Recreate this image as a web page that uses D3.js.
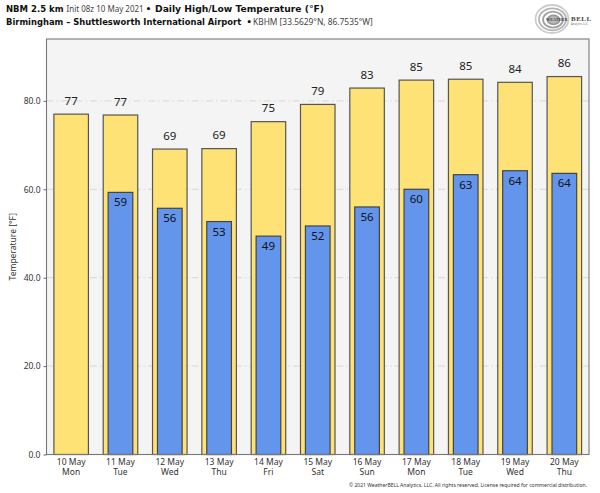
<!DOCTYPE html>
<html>
<head>
<meta charset="utf-8">
<script src="https://cdnjs.cloudflare.com/ajax/libs/d3/7.8.5/d3.min.js"></script>
<style>
  html, body { margin: 0; padding: 0; background: #fff; }
  svg { display: block; }
  text { font-family: "Noto Sans", "Open Sans", sans-serif; fill: #222; }
  .bold { font-family: "DejaVu Sans", sans-serif; font-weight: bold; fill: #111; }
  .thin { fill: #444; }
</style>
</head>
<body>
<svg id="chart" width="600" height="493"></svg>
<script>
var days = ["10 May", "11 May", "12 May", "13 May", "14 May", "15 May", "16 May", "17 May", "18 May", "19 May", "20 May"];
var weekdays = ["Mon", "Tue", "Wed", "Thu", "Fri", "Sat", "Sun", "Mon", "Tue", "Wed", "Thu"];
var highs = [77.0, 76.8, 69.1, 69.2, 75.3, 79.2, 82.9, 84.7, 84.9, 84.2, 85.5];
var lows = [null, 59.3, 55.7, 52.7, 49.4, 51.7, 56.0, 60.0, 63.3, 64.2, 63.6];
var yTicks = [0, 20, 40, 60, 80];

var left = 46.5, right = 589, top_ = 39, bottom = 454.5;
var svg = d3.select("#chart");

var x = d3.scaleBand().domain(days).range([left, right]).paddingInner(0.3).paddingOuter(0.15);
var y = d3.scaleLinear().domain([0, 94]).range([bottom, top_]);
var lowWidth = x.step() * 0.5;

// plot background
svg.append("rect").attr("x", left).attr("y", top_)
  .attr("width", right - left).attr("height", bottom - top_)
  .attr("fill", "#f4f4f4");

// grid
svg.append("g").selectAll("line").data(yTicks.slice(1)).enter().append("line")
  .attr("x1", left).attr("x2", right)
  .attr("y1", function (d) { return y(d); }).attr("y2", function (d) { return y(d); })
  .attr("stroke", "#d8d8d8").attr("stroke-width", 1).attr("stroke-dasharray", "7,3,1.5,3");

// high bars
svg.append("g").selectAll("rect").data(days).enter().append("rect")
  .attr("x", function (d) { return x(d); })
  .attr("width", x.bandwidth())
  .attr("y", function (d, i) { return y(highs[i]); })
  .attr("height", function (d, i) { return bottom - y(highs[i]); })
  .attr("fill", "#ffe275").attr("stroke", "#555").attr("stroke-width", 1.2);

// low bars
svg.append("g").selectAll("rect").data(days.filter(function (d, i) { return lows[i] !== null; })).enter().append("rect")
  .attr("x", function (d) { return x(d) + (x.bandwidth() - lowWidth) / 2; })
  .attr("width", lowWidth)
  .attr("y", function (d) { return y(lows[days.indexOf(d)]); })
  .attr("height", function (d) { return bottom - y(lows[days.indexOf(d)]); })
  .attr("fill", "#6495ed").attr("stroke", "#444").attr("stroke-width", 1.2);

// value labels
svg.append("g").selectAll("text").data(days).enter().append("text")
  .attr("x", function (d) { return x(d) + x.bandwidth() / 2; })
  .attr("y", function (d, i) { return y(highs[i]) - 9.5; })
  .attr("text-anchor", "middle").attr("font-size", 11.5)
  .text(function (d, i) { return Math.round(highs[i]); });

svg.append("g").selectAll("text").data(days.filter(function (d, i) { return lows[i] !== null; })).enter().append("text")
  .attr("x", function (d) { return x(d) + x.bandwidth() / 2; })
  .attr("y", function (d) { return y(lows[days.indexOf(d)]) + 14; })
  .attr("text-anchor", "middle").attr("font-size", 11.5).style("fill", "#111")
  .text(function (d) { return Math.round(lows[days.indexOf(d)]); });

// frame
svg.append("rect").attr("x", left).attr("y", top_)
  .attr("width", right - left).attr("height", bottom - top_)
  .attr("fill", "none").attr("stroke", "#777").attr("stroke-width", 1.1);

// y axis
var yAxis = svg.append("g").attr("transform", "translate(" + left + ",0)")
  .call(d3.axisLeft(y).tickValues(yTicks).tickFormat(d3.format(".1f")).tickSize(3));
yAxis.select(".domain").remove();
yAxis.selectAll("line").attr("stroke", "#666");
yAxis.selectAll("text").attr("font-size", 8.5).style("font-family", '"Noto Sans"').style("fill", "#333");

svg.append("text").attr("transform", "translate(16," + y(47) + ") rotate(-90)")
  .attr("text-anchor", "middle").attr("font-size", 8.5).style("fill", "#333").text("Temperature [°F]");

// x labels
var xl = svg.append("g").selectAll("text").data(days).enter().append("text")
  .attr("text-anchor", "middle").attr("font-size", 8.5).style("fill", "#333");
xl.append("tspan")
  .attr("x", function (d) { return x(d) + x.bandwidth() / 2; }).attr("y", 465)
  .text(function (d) { return d; });
xl.append("tspan")
  .attr("x", function (d) { return x(d) + x.bandwidth() / 2; }).attr("y", 475)
  .text(function (d, i) { return weekdays[i]; });

// title lines
var t1 = svg.append("text").attr("x", 6).attr("y", 12).attr("font-size", 8.5);
t1.append("tspan").attr("class", "bold").text("NBM 2.5 km ");
t1.append("tspan").attr("class", "thin").attr("font-size", 8).text("Init 08z 10 May 2021 ");
t1.append("tspan").attr("class", "bold").text("• ");
t1.append("tspan").attr("class", "bold").attr("x", 155).attr("font-size", 9.2).text("Daily High/Low Temperature (°F)");

var t2 = svg.append("text").attr("y", 25);
t2.append("tspan").attr("class", "bold").attr("x", 6).attr("font-size", 8.4).text("Birmingham – Shuttlesworth International Airport");
t2.append("tspan").attr("class", "bold").attr("x", 246.5).attr("font-size", 8.4).text("•");
t2.append("tspan").attr("class", "thin").attr("x", 253).attr("font-size", 8.4).text("KBHM [33.5629°N, 86.7535°W]");

// logo
var logo = svg.append("g").attr("transform", "translate(552,19)");
[[16.5, 14, "#ccc"], [13.5, 11, "#b5b5b5"], [10, 8, "#a0a0a0"], [6, 4.5, "#999"]].forEach(function (r, i) {
  logo.append("ellipse").attr("cx", i * 0.5).attr("cy", i * 0.3).attr("rx", r[0]).attr("ry", r[1])
    .attr("fill", i === 3 ? "#bbb" : "none").attr("stroke", r[2]).attr("stroke-width", 1.8);
});
logo.append("text").attr("x", -6).attr("y", 1.5).attr("font-size", 4.2)
  .style("font-family", '"Liberation Serif"').style("font-weight", "bold").style("fill", "#444").text("WEATHER");
logo.append("text").attr("x", 19).attr("y", 2).attr("font-size", 7)
  .style("font-family", '"Liberation Serif"').style("font-weight", "bold").style("fill", "#444")
  .attr("letter-spacing", 0.5).text("BELL");
logo.append("text").attr("x", 36).attr("y", 5.5).attr("text-anchor", "end").attr("font-size", 2.8)
  .style("fill", "#777").text("Analytics LLC");

// copyright
svg.append("text").attr("x", 587).attr("y", 486.5).attr("text-anchor", "end")
  .attr("font-size", 5.05).style("fill", "#333")
  .text("© 2021 WeatherBELL Analytics, LLC. All rights reserved. License required for commercial distribution.");
</script>
</body>
</html>
